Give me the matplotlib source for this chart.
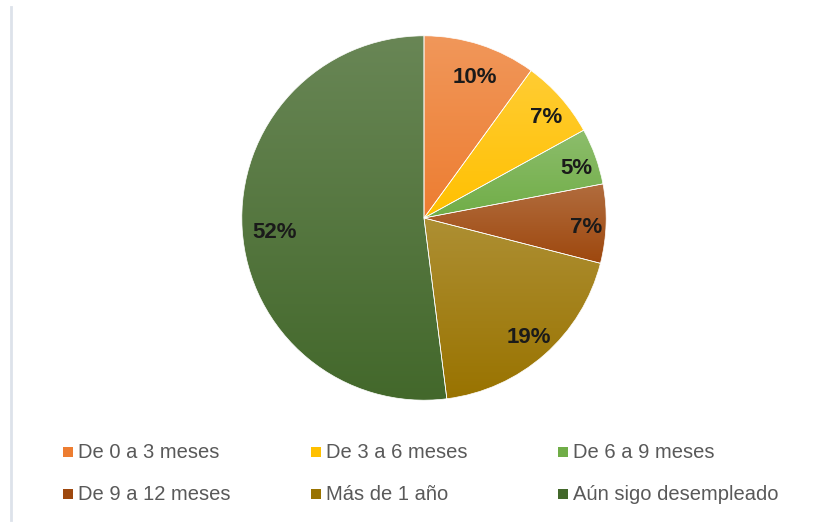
import numpy as np
import matplotlib
matplotlib.use("Agg")
import matplotlib.pyplot as plt
from matplotlib.patches import Wedge, Rectangle
from matplotlib.colors import to_rgb
from matplotlib.lines import Line2D

plt.rcParams['font.family'] = ['Liberation Sans', 'DejaVu Sans']

categorias = ['De 0 a 3 meses', 'De 3 a 6 meses', 'De 6 a 9 meses',
              'De 9 a 12 meses', 'Más de 1 año', 'Aún sigo desempleado']
porcentajes = [10, 7, 5, 7, 19, 52]
colores = ['#ED7D31', '#FFC000', '#70AD47', '#9E480E', '#997300', '#43682B']

fig = plt.figure(figsize=(8.26, 5.22), dpi=100)
fig.patch.set_facecolor('white')

# linea vertical gris a la izquierda
fig.add_artist(Line2D([11 / 826, 11 / 826], [2 / 522, 515 / 522],
                      color='#dde2ea', lw=2, transform=fig.transFigure))

cx, cy, r = 424, 218, 184
ax = fig.add_axes([(cx - r) / 826, (522 - cy - r) / 522, 2 * r / 826, 2 * r / 522])
ax.axis('off')

total = sum(porcentajes)
ang = 90.0
for val, col in zip(porcentajes, colores):
    theta2 = ang
    theta1 = ang - 360.0 * val / total
    w = Wedge((0, 0), 1, theta1, theta2, facecolor='none', edgecolor='white', lw=0.5)
    ax.add_patch(w)
    # degradado vertical: mas claro arriba
    verts = w.get_path().vertices
    ymin, ymax = verts[:, 1].min(), verts[:, 1].max()
    xmin, xmax = verts[:, 0].min(), verts[:, 0].max()
    base = np.array(to_rgb(col))
    claro = base + (1 - base) * 0.2
    t = np.linspace(0, 1, 100)[:, None]
    grad = claro * (1 - t) + base * t
    img = np.repeat(grad[:, None, :], 2, axis=1)
    im = ax.imshow(img, extent=[xmin, xmax, ymin, ymax], origin='upper',
                   aspect='auto', zorder=1, interpolation='bilinear')
    im.set_clip_path(w)
    w.set_zorder(2)

    mid = np.deg2rad((theta1 + theta2) / 2)
    d = 0.84 if val >= 10 else 0.87
    ax.text(d * np.cos(mid) + 0.02, d * np.sin(mid) - 0.025, f'{val}%', ha='center',
            va='center', fontsize=16, fontweight='bold', color='#1a1a1a', zorder=3)
    ang = theta1

ax.set_xlim(-1.01, 1.01)
ax.set_ylim(-1.01, 1.01)
ax.set_aspect('equal')

# leyenda en tres columnas
col_x = [63, 311, 558]
fila_y = [452, 494]
for i, (cat, col) in enumerate(zip(categorias, colores)):
    x = col_x[i % 3]
    y = fila_y[i // 3]
    fig.add_artist(Rectangle((x / 826, (522 - y - 5) / 522), 10 / 826, 10 / 522,
                             facecolor=col, edgecolor='none', transform=fig.transFigure))
    fig.text((x + 15) / 826, (522 - y) / 522, cat, fontsize=14.5, color='#595959',
             ha='left', va='center')

fig.savefig('out.png', dpi=100)
